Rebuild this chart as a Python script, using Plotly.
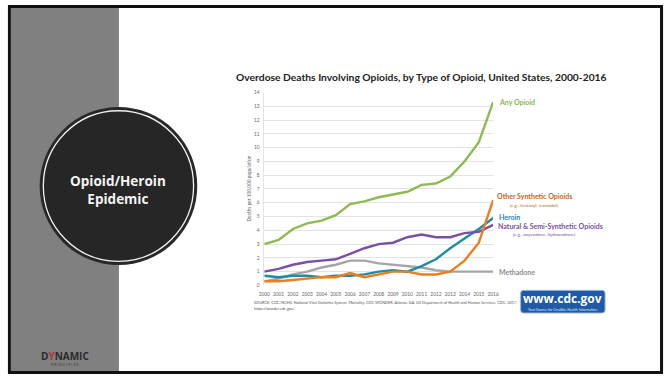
import plotly.graph_objects as go

W, H = 670, 378

years = list(range(2000, 2017))
any_opioid = [3.0, 3.3, 4.1, 4.5, 4.7, 5.1, 5.9, 6.1, 6.4, 6.6, 6.8, 7.3, 7.4, 7.9, 9.0, 10.4, 13.3]
natural_semi = [1.0, 1.2, 1.5, 1.7, 1.8, 1.9, 2.3, 2.7, 3.0, 3.1, 3.5, 3.7, 3.5, 3.5, 3.8, 3.9, 4.4]
methadone = [0.3, 0.5, 0.8, 1.0, 1.3, 1.5, 1.8, 1.8, 1.6, 1.5, 1.4, 1.3, 1.1, 1.0, 1.0, 1.0, 1.0]
heroin = [0.7, 0.6, 0.7, 0.7, 0.6, 0.7, 0.7, 0.8, 1.0, 1.1, 1.0, 1.4, 1.9, 2.7, 3.4, 4.1, 4.9]
other_synth = [0.3, 0.3, 0.4, 0.5, 0.6, 0.6, 0.9, 0.6, 0.8, 1.0, 1.0, 0.8, 0.8, 1.0, 1.8, 3.1, 6.2]

y_ticks = list(range(0, 15))
x_tick_labels = [str(y) for y in years]


def px(x):
    return x / W


def py(y):
    return 1 - y / H


fig = go.Figure()

series = [
    ("Methadone", methadone, "#A5A5A5"),
    ("Heroin", heroin, "#1E8CA6"),
    ("Natural & Semi-Synthetic Opioids", natural_semi, "#7A50A6"),
    ("Other Synthetic Opioids", other_synth, "#EC7E1E"),
    ("Any Opioid", any_opioid, "#8FBA52"),
]
for name, vals, col in series:
    fig.add_trace(go.Scatter(x=years, y=vals, mode="lines", name=name,
                             line=dict(color=col, width=2.4), showlegend=False,
                             hoverinfo="skip"))

shapes = []
# slide frame
shapes.append(dict(type="rect", xref="paper", yref="paper", x0=px(3.5), x1=px(667.5),
                   y0=py(375.5), y1=py(3.5), line=dict(color="#111111", width=3),
                   fillcolor="white", layer="below"))
# grey side panel
shapes.append(dict(type="rect", xref="paper", yref="paper", x0=px(5), x1=px(115),
                   y0=py(374), y1=py(5), line=dict(width=0), fillcolor="#808080",
                   layer="below"))
# circle
cx, cy, r = 114.5, 186, 79.5
shapes.append(dict(type="circle", xref="paper", yref="paper", x0=px(cx - r), x1=px(cx + r),
                   y0=py(cy + r), y1=py(cy - r), line=dict(color="#2a2a2a", width=1.5),
                   fillcolor="#262626", layer="above"))
r2 = 76.5
shapes.append(dict(type="circle", xref="paper", yref="paper", x0=px(cx - r2), x1=px(cx + r2),
                   y0=py(cy + r2), y1=py(cy - r2), line=dict(color="#f2f2f2", width=1.3),
                   layer="above"))
# cdc logo box
bx0, bx1, by0, by1 = 524, 610, 292, 315
rr = 3
path = (f"M {px(bx0+rr)},{py(by0)} L {px(bx1-rr)},{py(by0)} Q {px(bx1)},{py(by0)} {px(bx1)},{py(by0+rr)} "
        f"L {px(bx1)},{py(by1-rr)} Q {px(bx1)},{py(by1)} {px(bx1-rr)},{py(by1)} "
        f"L {px(bx0+rr)},{py(by1)} Q {px(bx0)},{py(by1)} {px(bx0)},{py(by1-rr)} "
        f"L {px(bx0)},{py(by0+rr)} Q {px(bx0)},{py(by0)} {px(bx0+rr)},{py(by0)} Z")
shapes.append(dict(type="path", xref="paper", yref="paper", path=path,
                   fillcolor="#1D5BA8", line=dict(color="#9db6d8", width=1), layer="above"))

ann = []


def text(x, y, s, size, color, xanchor="left", family="Lato", **kw):
    ann.append(dict(x=px(x), y=py(y), xref="paper", yref="paper", text=s, showarrow=False,
                    xanchor=xanchor, yanchor="middle",
                    font=dict(size=size, color=color, family=family), **kw))


text(114.5, 190.5, "<b>Opioid/Heroin</b><br><b>Epidemic</b>", 13.5, "#f4f4f4", "center",
     "Open Sans")

text(423, 75, "<b>Overdose Deaths Involving Opioids, by Type of Opioid, United States, 2000-2016</b>",
     10.3, "#222222", "center")

text(500, 101, "<b>Any Opioid</b>", 7, "#8DB35A")
text(498, 196, "<b>Other Synthetic Opioids</b>", 7, "#C4651C")
text(511, 205, "(e.g., fentanyl, tramadol)", 4.6, "#C4651C")
text(500, 217, "<b>Heroin</b>", 7, "#2D88B0")
text(499, 227, "<b>Natural &amp; Semi-Synthetic Opioids</b>", 7, "#7A4FA0")
text(514, 235, "(e.g., oxycodone, hydrocodone)", 4.6, "#7A4FA0")
text(500, 273, "<b>Methadone</b>", 7, "#8C8C8C")

text(250, 304, "SOURCE: CDC/NCHS, National Vital Statistics System, Mortality. CDC WONDER, Atlanta, GA: US Department of Health and Human Services, CDC; 2017.",
     3.9, "#555555")
text(250, 310, "https://wonder.cdc.gov/.", 3.9, "#555555")

text(567, 300.5, "<b>www.cdc.gov</b>", 12, "#ffffff", "center", "Open Sans")
text(567, 311, "Your Source for Credible Health Information", 3.6, "#dfe8f5", "center")

text(247, 189, "Deaths per 100,000 population", 4.8, "#666666", "center", textangle=-90)

# Dynamic Principles logo
text(60, 359, "<b>D<span style='color:#b5323a'>Y</span>NAMIC</b>", 10, "#2b2b2b", "center", "Open Sans")
text(60, 367, "P R I N C I P L E S", 3.6, "#3a3a3a", "center")

fig.update_layout(
    width=W, height=H, margin=dict(l=0, r=0, t=0, b=0),
    paper_bgcolor="white", plot_bgcolor="rgba(0,0,0,0)",
    shapes=shapes, annotations=ann,
    xaxis=dict(domain=[px(263), px(496)], range=[2000, 2016], tickvals=years,
               ticktext=x_tick_labels, showgrid=False, zeroline=False, showline=False,
               tickfont=dict(size=4.8, color="#666666", family="Lato"), ticks="",
               ticklabelstandoff=5, fixedrange=True),
    yaxis=dict(domain=[py(287), py(91)], range=[0, 14], tickvals=y_ticks,
               showgrid=True, gridcolor="#e3e3e3", gridwidth=0.7, zeroline=False,
               showline=True, linecolor="#e3e3e3", linewidth=0.7,
               tickfont=dict(size=4.8, color="#666666", family="Lato"), ticks="",
               ticklabelstandoff=3, fixedrange=True),
)

fig.write_html("out.html")
